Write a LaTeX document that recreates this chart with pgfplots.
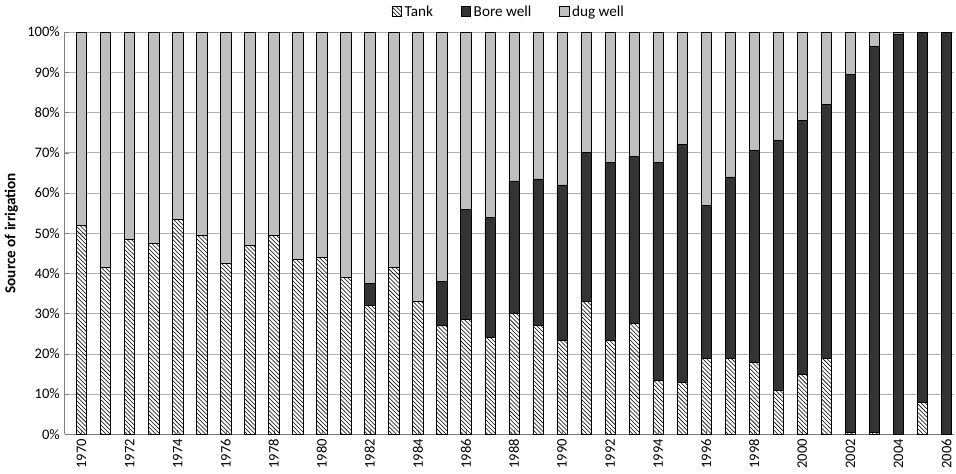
\documentclass[border=0pt]{standalone}
\usepackage{pgfplots}
\pgfplotsset{compat=1.18}
\usepackage{pgfplotstable}
\usepackage{fontspec}
\setmainfont{Carlito}
\usetikzlibrary{patterns}
\pgfplotstableread{
x tank bore dug
1970 52 0 48
1971 41.5 0 58.5
1972 48.5 0 51.5
1973 47.5 0 52.5
1974 53.5 0 46.5
1975 49.5 0 50.5
1976 42.5 0 57.5
1977 47 0 53
1978 49.5 0 50.5
1979 43.5 0 56.5
1980 44 0 56
1981 39 0 61
1982 32 5.5 62.5
1983 41.5 0 58.5
1984 33 0 67
1985 27 11 62
1986 28.5 27.5 44
1987 24 30 46
1988 30 33 37
1989 27 36.5 36.5
1990 23.5 38.5 38
1991 33 37 30
1992 23.5 44 32.5
1993 27.5 41.5 31
1994 13.5 54 32.5
1995 13 59 28
1996 19 38 43
1997 19 45 36
1998 18 52.5 29.5
1999 11 62 27
2000 15 63 22
2001 19 63 18
2002 0.5 89 10.5
2003 0.5 96 3.5
2004 0 99.5 0.5
2005 8 92 0
2006 0 100 0
}\data
\begin{document}
\begin{tikzpicture}
\begin{axis}[
  width=643pt, height=291pt, scale only axis,
  ybar stacked, bar width=7.5pt,
  xmin=1969.3, xmax=2006.3,
  ymin=0, ymax=100,
  xtick={1970,1972,...,2006},
  xticklabel style={rotate=90, anchor=east},
  xticklabel={\pgfmathprintnumber[1000 sep={},fixed]{\tick}},
  ytick={0,10,...,100},
  yticklabel={\pgfmathprintnumber{\tick}\%},
  ymajorgrids, major grid style={gray!60},
  axis line style={gray}, axis x line*=bottom, axis y line*=left,
  tick style={gray}, major tick length=3pt,
  ylabel={\textbf{Source of irrigation}},
  tick label style={font=\fontsize{10.5}{12}\selectfont},
  label style={font=\fontsize{11}{13}\selectfont},
  legend style={at={(0.5,1.02)}, anchor=south, draw=none, legend columns=-1, font=\fontsize{11}{13}\selectfont, /tikz/every even column/.append style={column sep=18pt}},
  legend image code/.code={\draw[#1] (0pt,-3pt) rectangle (7pt,4pt);},
  /pgf/number format/assume math mode=true,
]
\addplot[draw=black, pattern=north west lines, pattern color=black] table[x=x,y=tank]{\data};
\addplot[draw=black, fill=black!80] table[x=x,y=bore]{\data};
\addplot[draw=black, fill=black!25] table[x=x,y=dug]{\data};
\legend{Tank, Bore well, dug well}
\end{axis}
\end{tikzpicture}
\end{document}
